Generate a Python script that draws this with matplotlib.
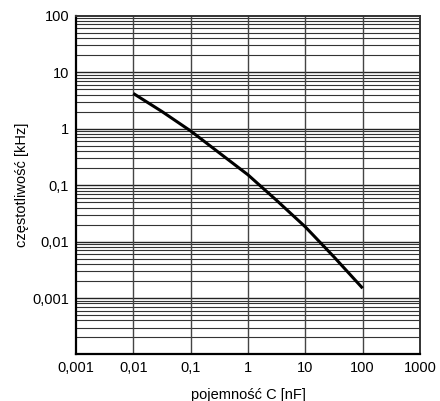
import matplotlib
matplotlib.use("Agg")
import matplotlib.pyplot as plt
import numpy as np

# data
capacitance_nF = [0.01, 0.0316, 0.1, 0.316, 1, 3.16, 10, 31.6, 100]
frequency_kHz = [4.2, 2.01, 0.91, 0.372, 0.152, 0.0536, 0.0182, 0.00535, 0.00149]

x_ticks = [0.001, 0.01, 0.1, 1, 10, 100, 1000]
x_tick_labels = ["0,001", "0,01", "0,1", "1", "10", "100", "1000"]
y_ticks = [0.001, 0.01, 0.1, 1, 10, 100]
y_tick_labels = ["0,001", "0,01", "0,1", "1", "10", "100"]

plt.rcParams['font.family'] = ['Liberation Sans', 'DejaVu Sans']

fig = plt.figure(figsize=(4.4, 4.01), dpi=100)
ax = fig.add_axes([0.1727, 0.1160, 0.9545 - 0.1727, 0.9608 - 0.1160])
ax.set_xscale('log')
ax.set_yscale('log')
ax.set_xlim(0.001, 1000)
ax.set_ylim(0.0001, 100)

# horizontal grid at all minor/major positions
for dec in range(-4, 2):
    for m in range(1, 10):
        v = m * 10.0 ** dec
        lw = 1.0 if m == 1 else 0.8
        col = '#222222' if m == 1 else '#333333'
        ax.axhline(v, color=col, lw=lw, zorder=1)
# vertical grid at decades
for v in x_ticks[1:-1]:
    ax.axvline(v, color='#444444', lw=1.0, zorder=1)

ax.plot(capacitance_nF, frequency_kHz, color='black', lw=2.2, zorder=3,
        solid_capstyle='butt', solid_joinstyle='round')

ax.xaxis.set_major_locator(matplotlib.ticker.FixedLocator(x_ticks))
ax.xaxis.set_major_formatter(matplotlib.ticker.FixedFormatter(x_tick_labels))
ax.xaxis.set_minor_locator(matplotlib.ticker.NullLocator())
ax.yaxis.set_major_locator(matplotlib.ticker.FixedLocator(y_ticks))
ax.yaxis.set_major_formatter(matplotlib.ticker.FixedFormatter(y_tick_labels))
ax.yaxis.set_minor_locator(matplotlib.ticker.NullLocator())
ax.tick_params(axis='both', length=0, labelsize=10.5, pad=5)

for s in ['left', 'bottom']:
    ax.spines[s].set_linewidth(1.6)
    ax.spines[s].set_color('black')
for s in ['top', 'right']:
    ax.spines[s].set_linewidth(1.4)
    ax.spines[s].set_color('#333333')

ax.set_xlabel("pojemność C [nF]", fontsize=10.5, labelpad=9)
ax.set_ylabel("częstotliwość [kHz]", fontsize=10.5, labelpad=2)

fig.savefig("out.png", dpi=100)
